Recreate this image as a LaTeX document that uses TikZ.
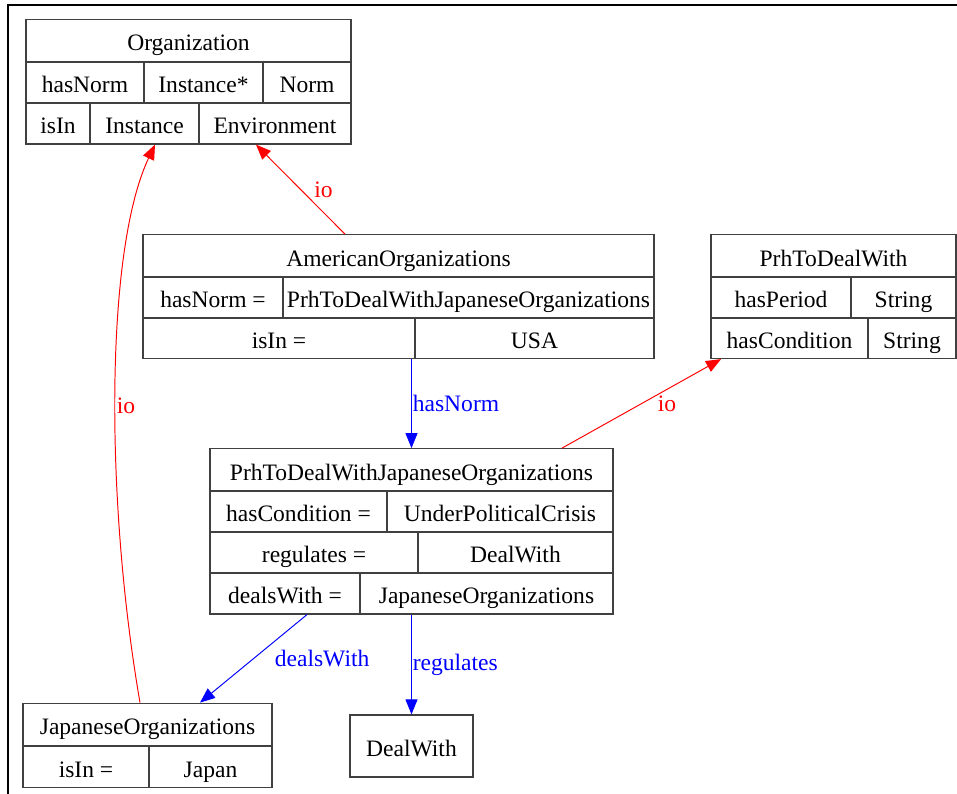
\documentclass[tikz,border=0pt]{standalone}
\usepackage{fontspec}
\setmainfont{Liberation Serif}
\newfontfamily\rmtimes{Liberation Serif}
\usepackage{xcolor}
\usepackage{tikz}
\usetikzlibrary{arrows.meta}

\begin{document}
\begin{tikzpicture}
[x=0.02cm,y=-0.02cm,
font=\rmtimes\fontsize{13.4pt}{16pt}\selectfont,
fld/.style={rectangle,draw=black!75,line width=0.7pt,inner sep=0pt,minimum height=0.82cm,text height=11.6pt,text depth=0pt},
hd/.style={fld,minimum height=0.85cm},
isa/.style={-{Triangle[length=0.3cm,width=0.24cm]},draw=red,line width=0.55pt},
ref/.style={-{Triangle[length=0.3cm,width=0.24cm]},draw=blue,line width=0.55pt},
lbl/.style={inner sep=0.5pt}]

\useasboundingbox (0,0) rectangle (957,794);
\draw [line width=1.1pt] (8,794) -- (8,5) -- (957,5);

\node at (188.5,40.5) [hd,minimum width=6.5cm]  (orgH)  {Organization};
\node at (85,82.5)    [fld,minimum width=2.36cm] (orgHN) {hasNorm};
\node at (203.5,82.5) [fld,minimum width=2.38cm] (orgIS) {Instance*};
\node at (307,82.5)   [fld,minimum width=1.76cm] (orgN)  {Norm};
\node at (58,123.5)   [fld,minimum width=1.28cm] (orgIn) {isIn};
\node at (144.5,123.5)[fld,minimum width=2.18cm] (orgI)  {Instance};
\node at (275,123.5)  [fld,minimum width=3.04cm] (orgE)  {Environment};

\node at (398.5,256)  [hd,minimum width=10.22cm] (amerH)  {AmericanOrganizations};
\node at (213,297.5)  [fld,minimum width=2.8cm]  (amerHN) {hasNorm =};
\node at (468.5,297.5)[fld,minimum width=7.42cm] (amerP)  {PrhToDealWithJapaneseOrganizations};
\node at (279,338)    [fld,minimum width=5.44cm] (amerIs) {isIn =};
\node at (534.5,338)  [fld,minimum width=4.78cm] (amerU)  {USA};

\node at (833.5,256)  [hd,minimum width=4.9cm]   (prhH)  {PrhToDealWith};
\node at (781,297.5)  [fld,minimum width=2.8cm]  (prhP)  {hasPeriod};
\node at (903.5,297.5)[fld,minimum width=2.1cm]  (prhS1) {String};
\node at (789.5,338)  [fld,minimum width=3.14cm] (prhC)  {hasCondition};
\node at (912,338)    [fld,minimum width=1.76cm] (prhS2) {String};

\node at (411.5,470)  [hd,minimum width=8.06cm]  (pjoH) {PrhToDealWithJapaneseOrganizations};
\node at (298.5,511.5)[fld,minimum width=3.54cm] (pjoC) {hasCondition =};
\node at (500,511.5)  [fld,minimum width=4.52cm] (pjoU) {UnderPoliticalCrisis};
\node at (314,552.5)  [fld,minimum width=4.16cm] (pjoR) {regulates =};
\node at (515.5,552.5)[fld,minimum width=3.9cm]  (pjoW) {DealWith};
\node at (285,593.5)  [fld,minimum width=3.0cm]  (pjoD) {dealsWith =};
\node at (486.5,593.5)[fld,minimum width=5.06cm] (pjoJ) {JapaneseOrganizations};

\node at (147.5,724.5)[hd,minimum width=4.98cm]  (jpoH)  {JapaneseOrganizations};
\node at (86,767)     [fld,minimum width=2.52cm] (jpoIs) {isIn =};
\node at (210.5,767)  [fld,minimum width=2.46cm] (jpoJ)  {Japan};

\node at (411.5,746)  [fld,minimum width=2.46cm,minimum height=1.24cm] (dw) {DealWith};

\draw [isa] ([xshift=-1.07cm]amerH.north) -- ([xshift=-0.38cm]orgE.south)
  node [midway,right=0.25cm,lbl,text=red] {io};
\draw [isa] ([xshift=-0.15cm]jpoH.north) .. controls (105,500) and (105,250) .. ([xshift=0.21cm]orgI.south)
  node [pos=0.47,anchor=west,lbl,text=red] {io};
\draw [isa] ([xshift=3.01cm]pjoH.north) -- ([xshift=-1.37cm]prhC.south)
  node [midway,right=0.3cm,lbl,text=red] {io};
\draw [ref] (amerIs.south -| pjoH.north) -- (pjoH.north)
  node [midway,right,lbl,text=blue] {hasNorm};
\draw [ref] ([xshift=0.44cm]pjoD.south) -- ([xshift=1.05cm]jpoH.north)
  node [midway,right=0.4cm,lbl,text=blue] {dealsWith};
\draw [ref] (pjoJ.south -| dw.north) -- (dw.north)
  node [midway,right,lbl,text=blue] {regulates};
\end{tikzpicture}
\end{document}
